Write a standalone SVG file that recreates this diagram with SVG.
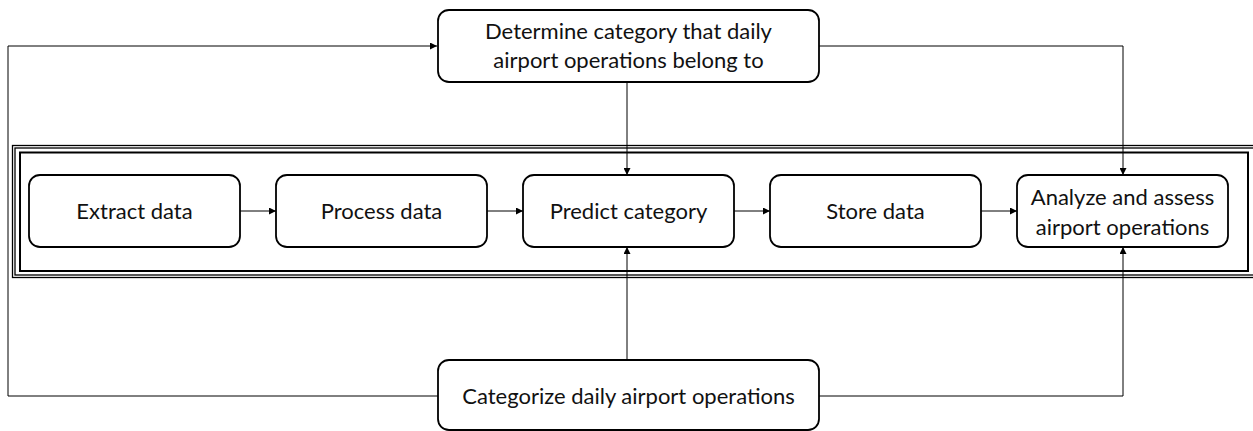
<svg xmlns="http://www.w3.org/2000/svg" width="1253" height="431" viewBox="0 0 1253 431">
<style>
.box{fill:#fff;stroke:#000;stroke-width:1.8}
.lbl{font-family:Lato,"Open Sans",sans-serif;font-size:22px;fill:#111;text-anchor:middle}
.con{fill:none;stroke:#000;stroke-width:1}
.frame{fill:none;stroke:#000}
</style>
<defs>
<marker id="ah" viewBox="0 0 10 10" refX="10" refY="5" markerWidth="7" markerHeight="7" markerUnits="userSpaceOnUse" orient="auto">
<path d="M0,0 L10,5 L0,10 z" fill="#000"/>
</marker>
</defs>
<rect width="1253" height="431" fill="#fff"/>
<g id="frame">
<rect class="frame" x="12.5" y="145.5" width="1250" height="132" stroke-width="1.3"/>
<rect class="frame" x="15" y="148" width="1245" height="127" stroke-width="1.3"/>
<rect class="frame" x="20" y="152.5" width="1228" height="118.5" stroke-width="2"/>
</g>
<g id="connectors">
<path class="con" d="M438,396 H8 V46 H437" marker-end="url(#ah)"/>
<path class="con" d="M819,46 H1123 V175" marker-end="url(#ah)"/>
<path class="con" d="M627,82 V175" marker-end="url(#ah)"/>
<path class="con" d="M627,360 V247" marker-end="url(#ah)"/>
<path class="con" d="M819,396 H1123 V247" marker-end="url(#ah)"/>
<path class="con" d="M240,211 H276" marker-end="url(#ah)"/>
<path class="con" d="M487,211 H523" marker-end="url(#ah)"/>
<path class="con" d="M734,211 H770" marker-end="url(#ah)"/>
<path class="con" d="M981,211 H1017" marker-end="url(#ah)"/>
</g>
<g id="determine">
<rect class="box" x="438" y="10" width="381" height="72" rx="11"/>
<text class="lbl" x="628.5" y="39">Determine category that daily</text>
<text class="lbl" x="628.5" y="68">airport operations belong to</text>
</g>
<g id="extract">
<rect class="box" x="29" y="175" width="211" height="72" rx="11"/>
<text class="lbl" x="134.5" y="219">Extract data</text>
</g>
<g id="process">
<rect class="box" x="276" y="175" width="211" height="72" rx="11"/>
<text class="lbl" x="381.5" y="219">Process data</text>
</g>
<g id="predict">
<rect class="box" x="523" y="175" width="211" height="72" rx="11"/>
<text class="lbl" x="628.5" y="219">Predict category</text>
</g>
<g id="store">
<rect class="box" x="770" y="175" width="211" height="72" rx="11"/>
<text class="lbl" x="875.5" y="219">Store data</text>
</g>
<g id="analyze">
<rect class="box" x="1017" y="175" width="211" height="72" rx="11"/>
<text class="lbl" x="1122.5" y="205">Analyze and assess</text>
<text class="lbl" x="1122.5" y="235">airport operations</text>
</g>
<g id="categorize">
<rect class="box" x="438" y="360" width="381" height="70" rx="11"/>
<text class="lbl" x="628.5" y="404">Categorize daily airport operations</text>
</g>
</svg>
